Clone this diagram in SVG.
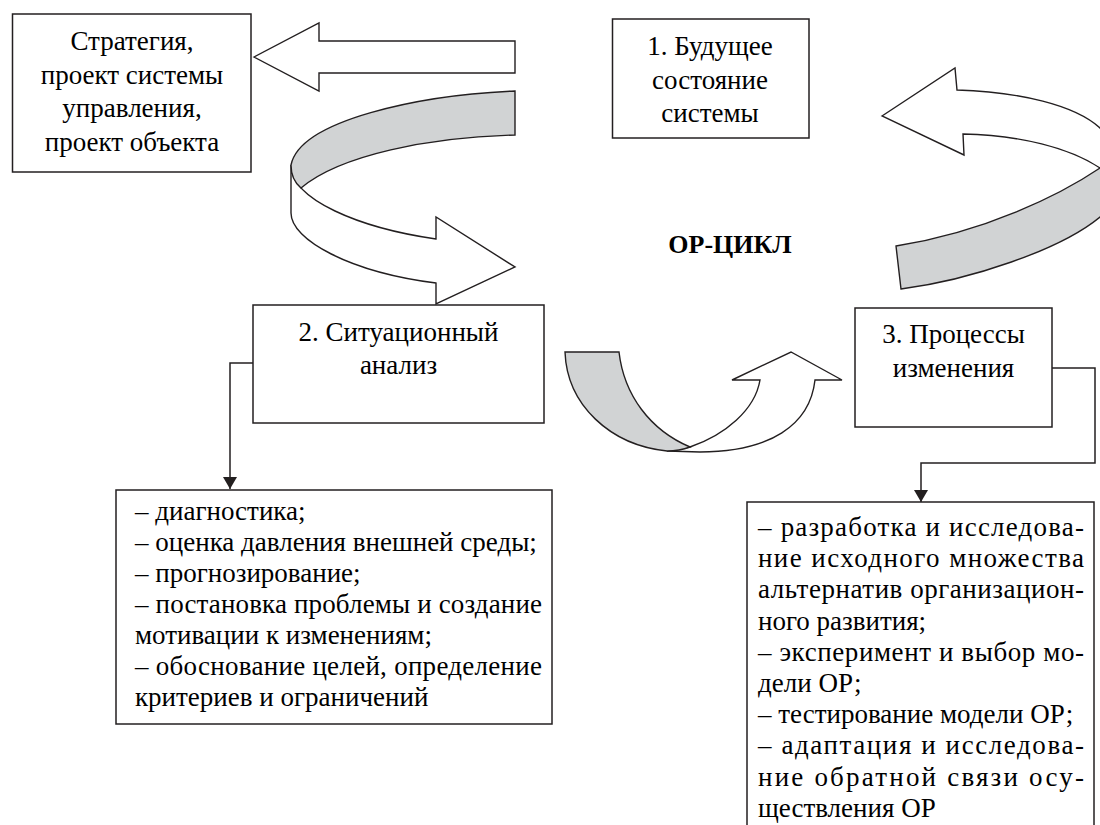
<svg xmlns="http://www.w3.org/2000/svg" width="1100" height="825" viewBox="0 0 1100 825">
<defs>
<marker id="ah" markerWidth="12" markerHeight="14" refX="12" refY="7" orient="auto" markerUnits="userSpaceOnUse">
<path d="M0,0 L12,7 L0,14 Z" fill="#231f20"/>
</marker>
</defs>
<rect width="1100" height="825" fill="#fff"/>
<g id="arrows" stroke="#231f20" stroke-width="1.4">
<polygon fill="#fff" points="254,57 319,23 319,41 515,41 515,73 319,73 319,91"/>
<path fill="#fff" d="M291,165 L291,213 C291,240 350,272 436,283 L436,304 L515,267 L436,217 L436,239 C360,228 291,200 291,165 Z"/>
<path fill="#d1d3d4" d="M515,91 C420,95 300,120 291,165 C291,175 295,183 301,188 C340,155 430,137 515,135 Z"/>
<path fill="#fff" d="M882,116 L955,68 L957,90 C1020,92 1075,105 1100,128 L1115,150 L1100,168 C1070,148 1020,135 963,134 L964,155 Z"/>
<path fill="#d1d3d4" d="M896,246 L901,289 C970,280 1060,250 1100,217 L1110,205 L1110,160 L1100,168 C1060,195 985,232 896,246 Z"/>
<path fill="#fff" d="M690,447 C725,435 755,410 760,380 L732,380 L791,352 L842,380 L815,380 C810,425 770,452 700,452 L667,451 Z"/>
<path fill="#d1d3d4" d="M565,352 L619,352 C624,395 650,430 690,447 C682,450 675,451 667,451 C610,445 567,405 565,352 Z"/>
</g>
<g id="connectors" fill="none" stroke="#231f20" stroke-width="1.5">
<path d="M253,363 L230,363 L230,489" marker-end="url(#ah)"/>
<path d="M1052,368 L1095,368 L1095,463 L921,463 L921,502" marker-end="url(#ah)"/>
</g>
<g id="strategy"><rect x="12.5" y="14" width="238.5" height="158" fill="#fff" stroke="#231f20" stroke-width="1.5"/></g>
<g id="future"><rect x="612.5" y="19" width="196.5" height="119" fill="#fff" stroke="#231f20" stroke-width="1.5"/></g>
<g id="situation"><rect x="253" y="305" width="291" height="118" fill="#fff" stroke="#231f20" stroke-width="1.5"/></g>
<g id="processes"><rect x="855" y="308" width="197" height="119" fill="#fff" stroke="#231f20" stroke-width="1.5"/></g>
<g id="list-situation"><rect x="116" y="490" width="436" height="234" fill="#fff" stroke="#231f20" stroke-width="1.5"/></g>
<g id="list-processes"><rect x="747" y="502" width="347" height="340" fill="#fff" stroke="#231f20" stroke-width="1.5"/></g>
<text x="132" y="50" font-size="27" font-family="Liberation Serif" text-anchor="middle">Стратегия,</text>
<text x="132" y="83.5" font-size="27" font-family="Liberation Serif" text-anchor="middle">проект системы</text>
<text x="132" y="117" font-size="27" font-family="Liberation Serif" text-anchor="middle">управления,</text>
<text x="132" y="150.5" font-size="27" font-family="Liberation Serif" text-anchor="middle">проект объекта</text>
<text x="710" y="55" font-size="27" font-family="Liberation Serif" text-anchor="middle">1. Будущее</text>
<text x="710" y="89" font-size="27" font-family="Liberation Serif" text-anchor="middle">состояние</text>
<text x="710" y="122" font-size="27" font-family="Liberation Serif" text-anchor="middle">системы</text>
<text x="730" y="253" font-size="26" font-family="Liberation Serif" font-weight="bold" text-anchor="middle">ОР-ЦИКЛ</text>
<text x="398.5" y="341" font-size="27" font-family="Liberation Serif" text-anchor="middle">2. Ситуационный</text>
<text x="398.5" y="374" font-size="27" font-family="Liberation Serif" text-anchor="middle">анализ</text>
<text x="953.5" y="343" font-size="27" font-family="Liberation Serif" text-anchor="middle">3. Процессы</text>
<text x="953.5" y="377" font-size="27" font-family="Liberation Serif" text-anchor="middle">изменения</text>
<text x="135" y="520" font-size="27" font-family="Liberation Serif">– диагностика;</text>
<text x="135" y="551" font-size="27" font-family="Liberation Serif">– оценка давления внешней среды;</text>
<text x="135" y="582" font-size="27" font-family="Liberation Serif">– прогнозирование;</text>
<text x="135" y="613" font-size="27" font-family="Liberation Serif" textLength="407" lengthAdjust="spacing">– постановка проблемы и создание</text>
<text x="135" y="644" font-size="27" font-family="Liberation Serif">мотивации к изменениям;</text>
<text x="135" y="675" font-size="27" font-family="Liberation Serif" textLength="407" lengthAdjust="spacing">– обоснование целей, определение</text>
<text x="135" y="706" font-size="27" font-family="Liberation Serif">критериев и ограничений</text>
<text x="758" y="536" font-size="27" font-family="Liberation Serif" textLength="326" lengthAdjust="spacing">– разработка и исследова-</text>
<text x="758" y="567.2" font-size="27" font-family="Liberation Serif" textLength="326" lengthAdjust="spacing">ние исходного множества</text>
<text x="758" y="598.4" font-size="27" font-family="Liberation Serif" textLength="326" lengthAdjust="spacing">альтернатив организацион-</text>
<text x="758" y="629.6" font-size="27" font-family="Liberation Serif">ного развития;</text>
<text x="758" y="660.8" font-size="27" font-family="Liberation Serif" textLength="326" lengthAdjust="spacing">– эксперимент и выбор мо-</text>
<text x="758" y="692" font-size="27" font-family="Liberation Serif">дели ОР;</text>
<text x="758" y="723.2" font-size="27" font-family="Liberation Serif">– тестирование модели ОР;</text>
<text x="758" y="754.4" font-size="27" font-family="Liberation Serif" textLength="326" lengthAdjust="spacing">– адаптация и исследова-</text>
<text x="758" y="785.6" font-size="27" font-family="Liberation Serif" textLength="326" lengthAdjust="spacing">ние обратной связи осу-</text>
<text x="758" y="816.8" font-size="27" font-family="Liberation Serif">ществления ОР</text>
</svg>
